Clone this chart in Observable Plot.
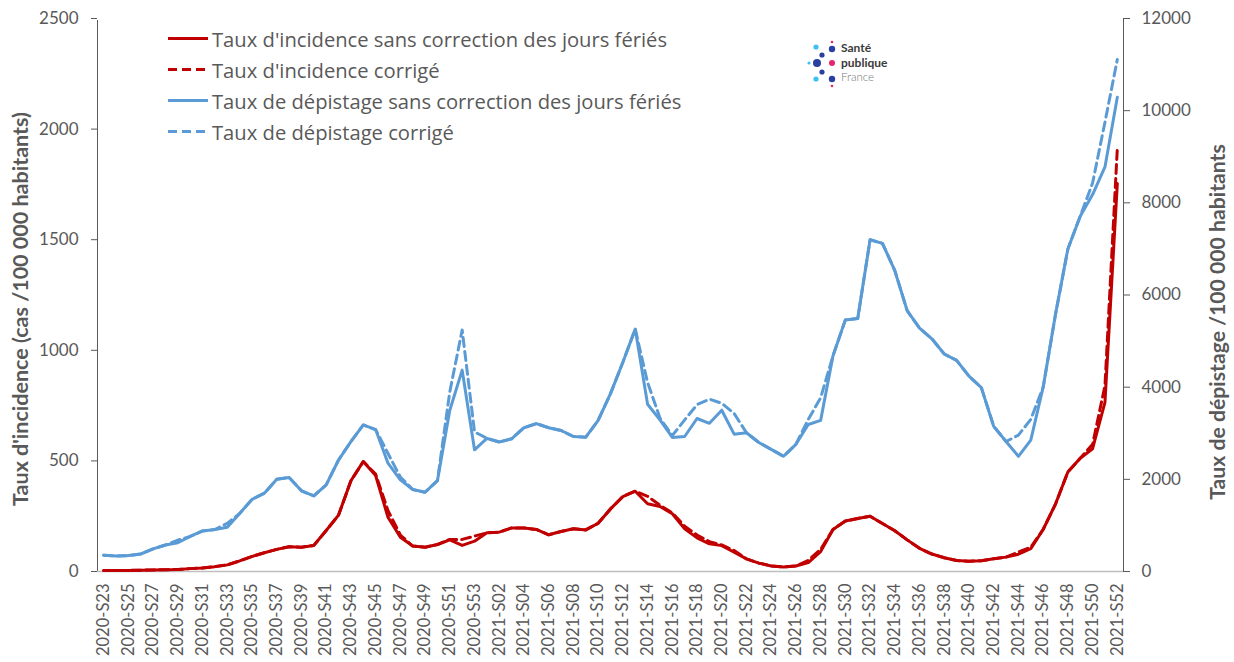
<!DOCTYPE html>
<html>
<head>
<meta charset="utf-8">
<script src="https://cdn.jsdelivr.net/npm/d3@7"></script>
<script src="https://cdn.jsdelivr.net/npm/@observablehq/plot@0.6"></script>
<style>
  html, body { margin: 0; padding: 0; background: #fff; }
  #wrap { position: relative; width: 1234px; height: 662px; font-family: Lato, "Open Sans", sans-serif; }
  #legend { position: absolute; left: 168px; top: 23px; font-family: "Open Sans", Lato, sans-serif; font-size: 20.2px; color: #595959; }
  #legend .row { display: flex; align-items: center; height: 31px; }
  #legend svg { margin-right: 4px; }
  #logo { position: absolute; left: 800px; top: 36px; }
</style>
</head>
<body>
<div id="wrap">
  <div id="chart"></div>
  <div id="legend"></div>
  <div id="logo"></div>
</div>
<script>
// ---- Data ----
const weeks = [
  "2020-S23","2020-S24","2020-S25","2020-S26","2020-S27","2020-S28","2020-S29","2020-S30","2020-S31","2020-S32",
  "2020-S33","2020-S34","2020-S35","2020-S36","2020-S37","2020-S38","2020-S39","2020-S40","2020-S41","2020-S42",
  "2020-S43","2020-S44","2020-S45","2020-S46","2020-S47","2020-S48","2020-S49","2020-S50","2020-S51","2020-S52",
  "2020-S53","2021-S01","2021-S02","2021-S03","2021-S04","2021-S05","2021-S06","2021-S07","2021-S08","2021-S09",
  "2021-S10","2021-S11","2021-S12","2021-S13","2021-S14","2021-S15","2021-S16","2021-S17","2021-S18","2021-S19",
  "2021-S20","2021-S21","2021-S22","2021-S23","2021-S24","2021-S25","2021-S26","2021-S27","2021-S28","2021-S29",
  "2021-S30","2021-S31","2021-S32","2021-S33","2021-S34","2021-S35","2021-S36","2021-S37","2021-S38","2021-S39",
  "2021-S40","2021-S41","2021-S42","2021-S43","2021-S44","2021-S45","2021-S46","2021-S47","2021-S48","2021-S49",
  "2021-S50","2021-S51","2021-S52"
];

const weekTicks = [
  "2020-S23","2020-S25","2020-S27","2020-S29","2020-S31","2020-S33","2020-S35","2020-S37","2020-S39","2020-S41",
  "2020-S43","2020-S45","2020-S47","2020-S49","2020-S51","2020-S53","2021-S02","2021-S04","2021-S06","2021-S08",
  "2021-S10","2021-S12","2021-S14","2021-S16","2021-S18","2021-S20","2021-S22","2021-S24","2021-S26","2021-S28",
  "2021-S30","2021-S32","2021-S34","2021-S36","2021-S38","2021-S40","2021-S42","2021-S44","2021-S46","2021-S48",
  "2021-S50","2021-S52"
];

// Taux d'incidence (cas / 100 000 habitants) — left axis
const incidence = [
  4, 4, 5, 6, 7, 8, 9, 13, 16, 22,
  30, 48, 68, 85, 100, 112, 110, 118, 185, 255,
  410, 497, 434, 245, 155, 115, 110, 122, 143, 118,
  137, 175, 178, 197, 197, 190, 166, 181, 193, 188,
  218, 283, 339, 363, 306, 294, 261, 193, 152, 125,
  117, 87, 57, 38, 25, 20, 25, 40, 90, 190,
  228, 240, 250, 217, 184, 143, 105, 79, 62, 50,
  46, 49, 58, 65, 78, 103, 190, 305, 450, 512,
  555, 765, 1754
];
const incidenceCorr = [
  4, 4, 5, 6, 7, 8, 9, 13, 16, 22,
  30, 48, 68, 85, 100, 112, 110, 118, 185, 255,
  410, 497, 440, 275, 165, 115, 110, 122, 145, 145,
  160, 175, 178, 197, 197, 190, 166, 181, 193, 188,
  218, 283, 339, 363, 340, 300, 265, 205, 165, 135,
  120, 95, 57, 38, 25, 20, 25, 50, 100, 190,
  228, 240, 250, 217, 184, 143, 105, 79, 62, 50,
  46, 49, 58, 65, 88, 110, 190, 305, 450, 512,
  575, 840, 1912
];

// Taux de dépistage (/100 000 habitants) — right axis
const depistage = [
  355, 335, 345, 380, 490, 575, 625, 760, 880, 910,
  960, 1260, 1565, 1700, 2000, 2040, 1750, 1640, 1880, 2420,
  2820, 3180, 3080, 2350, 1990, 1780, 1720, 1970, 3500, 4370,
  2640, 2890, 2810, 2880, 3120, 3210, 3120, 3060, 2930, 2915,
  3280, 3860, 4540, 5260, 3630, 3290, 2910, 2930, 3320, 3215,
  3500, 2980, 3010, 2800, 2650, 2500, 2760, 3190, 3280, 4680,
  5460, 5490, 7200, 7120, 6530, 5660, 5280, 5050, 4720, 4580,
  4240, 3990, 3150, 2820, 2500, 2850, 4000, 5580, 7000, 7710,
  8180, 8780, 10290
];
const depistageCorr = [
  355, 335, 345, 380, 490, 575, 680, 760, 880, 910,
  1045, 1260, 1565, 1700, 2000, 2040, 1750, 1640, 1880, 2420,
  2820, 3180, 3080, 2560, 2050, 1780, 1720, 1970, 3900, 5240,
  3030, 2890, 2810, 2880, 3120, 3210, 3120, 3060, 2930, 2915,
  3280, 3860, 4540, 5260, 4100, 3330, 2950, 3290, 3620, 3740,
  3650, 3430, 3010, 2800, 2650, 2500, 2760, 3300, 3770, 4680,
  5460, 5490, 7200, 7120, 6530, 5660, 5280, 5050, 4720, 4580,
  4240, 3990, 3150, 2820, 2960, 3300, 4000, 5580, 7000, 7710,
  8430, 9750, 11110
];

const leftTicks = [0, 500, 1000, 1500, 2000, 2500];
const rightTicks = [0, 2000, 4000, 6000, 8000, 10000, 12000];
const leftMax = 2500, rightMax = 12000;

const seriesNames = [
  "Taux d'incidence sans correction des jours fériés",
  "Taux d'incidence corrigé",
  "Taux de dépistage sans correction des jours fériés",
  "Taux de dépistage corrigé"
];
const leftTitle = "Taux d'incidence (cas /100 000 habitants)";
const rightTitle = "Taux de dépistage /100 000 habitants";

// ---- Chart ----
const RED = "#C00000", BLUE = "#5B9BD5", GREY = "#595959";
const K = rightMax / leftMax;
const rows = weeks.map((w, i) => ({
  week: w, inc: incidence[i], incC: incidenceCorr[i],
  dep: depistage[i] / K, depC: depistageCorr[i] / K
}));
const DASH = "9,5";

const chart = Plot.plot({
  width: 1234,
  height: 662,
  marginLeft: 97,
  marginRight: 111,
  marginTop: 18,
  marginBottom: 91,
  style: { fontFamily: "Lato, 'Open Sans', sans-serif", background: "white", color: GREY },
  x: { type: "point", domain: weeks, padding: 0.5, round: false },
  y: { domain: [0, leftMax] },
  marks: [
    Plot.frame({ stroke: GREY }),
    Plot.ruleY([leftMax], { stroke: "white", strokeWidth: 3 }),
    Plot.ruleY([0], { stroke: "#BFBFBF", strokeWidth: 1.5 }),
    Plot.axisY({ anchor: "left", ticks: leftTicks, tickFormat: d => String(d), tickSize: 6, tickPadding: 13,
                 fontSize: 17, color: GREY, label: null }),
    Plot.axisY({ anchor: "right", ticks: rightTicks.map(v => v / K), tickFormat: d => String(Math.round(d * K)),
                 tickSize: 6, tickPadding: 12, fontSize: 17, color: GREY, label: null }),
    Plot.axisX({ ticks: weekTicks, tickRotate: -90, tickSize: 0, tickPadding: 12, fontSize: 16.5, color: GREY, label: null }),
    Plot.text([leftTitle], { text: d => d, frameAnchor: "left", textAnchor: "middle", rotate: -90, dx: -76, dy: 14,
                             fontSize: 21.5, fontWeight: "bold", fill: GREY }),
    Plot.text([rightTitle], { text: d => d, frameAnchor: "right", textAnchor: "middle", rotate: -90, dx: 95, dy: 27,
                              fontSize: 21.2, fontWeight: "bold", fill: GREY }),
    Plot.line(rows, { x: "week", y: "inc", stroke: RED, strokeWidth: 3, strokeLinejoin: "round" }),
    Plot.line(rows, { x: "week", y: "incC", stroke: RED, strokeWidth: 3, strokeDasharray: DASH, strokeLinejoin: "round" }),
    Plot.line(rows, { x: "week", y: "dep", stroke: BLUE, strokeWidth: 3, strokeLinejoin: "round" }),
    Plot.line(rows, { x: "week", y: "depC", stroke: BLUE, strokeWidth: 3, strokeDasharray: DASH, strokeLinejoin: "round" })
  ]
});
document.getElementById("chart").appendChild(chart);

// ---- Legend ----
const legendStyles = [
  { color: RED, dash: null }, { color: RED, dash: DASH },
  { color: BLUE, dash: null }, { color: BLUE, dash: DASH }
];
const legend = d3.select("#legend");
seriesNames.forEach((name, i) => {
  const row = legend.append("div").attr("class", "row");
  const s = row.append("svg").attr("width", 40).attr("height", 31);
  s.append("line").attr("x1", 0).attr("x2", 40).attr("y1", 15.5).attr("y2", 15.5)
    .attr("stroke", legendStyles[i].color).attr("stroke-width", 3)
    .attr("stroke-dasharray", legendStyles[i].dash);
  row.append("span").text(name);
});

// ---- Logo (Santé publique France) ----
const logo = d3.select("#logo").append("svg").attr("width", 110).attr("height", 60);
const dots = [
  [16, 11, 2.6, "#3EC1F0"], [22, 19, 2.6, "#2A3FA0"], [32, 13, 3.2, "#2A3FA0"], [32, 6, 1.3, "#E6256A"],
  [9, 27, 1.6, "#3EC1F0"], [17, 27, 4, "#2A3FA0"], [32, 27, 3, "#E6256A"],
  [22, 36, 2.6, "#2A3FA0"], [16, 43, 2.6, "#3EC1F0"], [32, 43, 3.2, "#2A3FA0"], [32, 50, 1.3, "#E6256A"]
];
logo.selectAll("circle").data(dots).join("circle")
  .attr("cx", d => d[0]).attr("cy", d => d[1]).attr("r", d => d[2]).attr("fill", d => d[3]);
logo.append("text").attr("x", 41).attr("y", 16).text("Santé")
  .attr("font-size", 12).attr("font-weight", "bold").attr("fill", "#3a3a3a").attr("font-family", "Lato");
logo.append("text").attr("x", 41).attr("y", 30.5).text("publique")
  .attr("font-size", 12).attr("font-weight", "bold").attr("fill", "#3a3a3a").attr("font-family", "Lato");
logo.append("text").attr("x", 41).attr("y", 45).text("France")
  .attr("font-size", 11.5).attr("font-weight", 300).attr("fill", "#777").attr("font-family", "Lato");
</script>
</body>
</html>
